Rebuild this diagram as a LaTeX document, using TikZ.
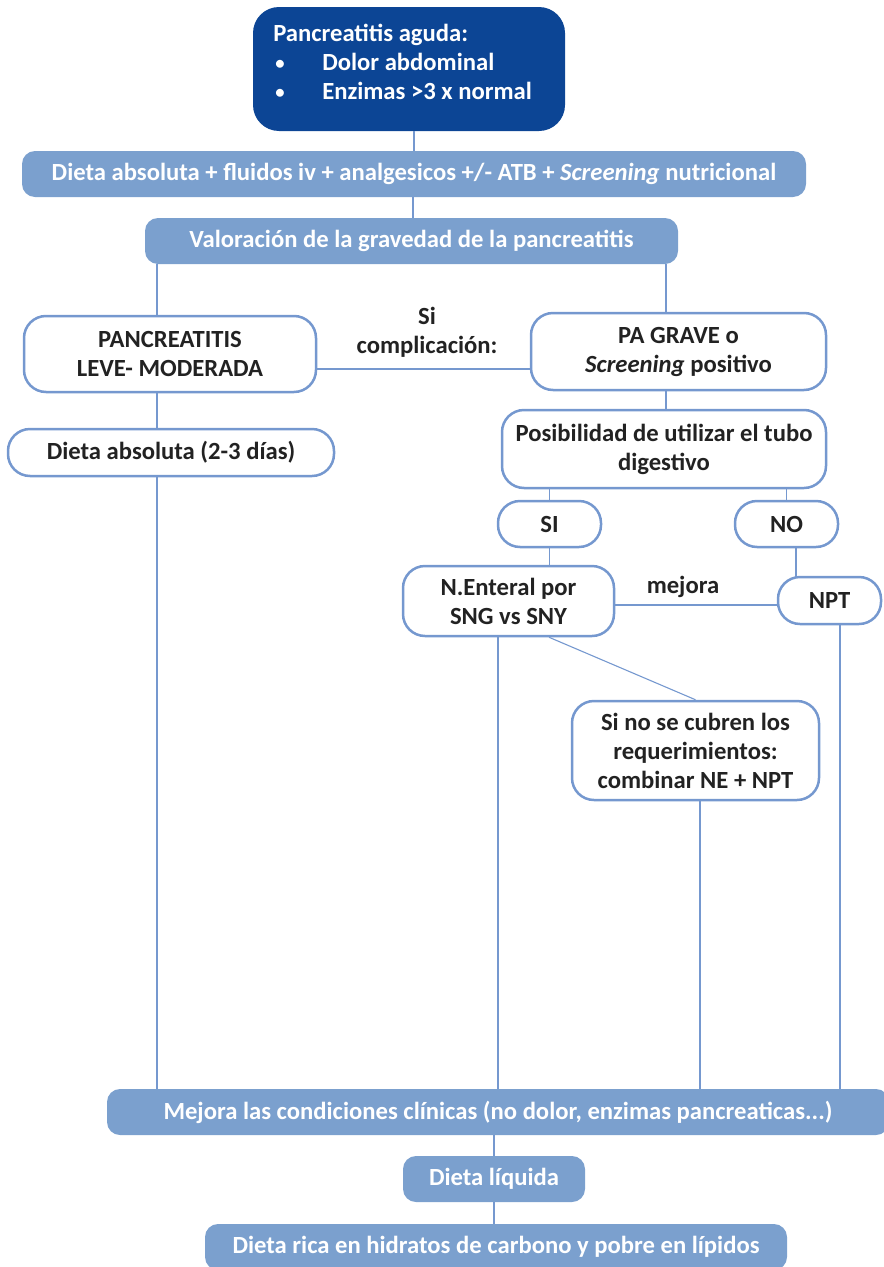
\documentclass[tikz,border=0pt]{standalone}
\usepackage{fontspec}
\setmainfont{Carlito}
\usetikzlibrary{positioning}
\definecolor{darkblue}{HTML}{0C4595}
\definecolor{barblue}{HTML}{7BA0CE}
\definecolor{lineblue}{HTML}{7598CF}
\definecolor{textgray}{HTML}{222222}
\newlength\pxl
\setlength\pxl{0.75pt}
\newcommand\smallbullet{\makebox[49\pxl][l]{\hspace{2\pxl}\raisebox{1\pxl}{\fontsize{14}{14}\selectfont\textbullet}}}
\tikzset{
    bar/.style={fill=barblue, rounded corners=13*\pxl, text=white, inner sep=0pt,
        minimum height=46*\pxl},
    whitebox/.style={draw=lineblue, line width=2.5*\pxl, fill=white, rounded corners=22*\pxl,
        text=textgray, align=center, inner sep=0pt},
    link/.style={draw=lineblue, line width=1.1*\pxl},
    lbl/.style={text=textgray, align=center, inner sep=0pt},
}

\begin{document}
\begin{tikzpicture}[x=\pxl, y=-\pxl,
    every node/.style={font=\bfseries\fontsize{18.5}{21.75}\selectfont}]
    \useasboundingbox (0,0) rectangle (883,1267);
    % top box
    \node[fill=darkblue, rounded corners=26*\pxl, minimum width=312*\pxl, minimum height=124*\pxl,
        inner sep=0pt] (acute) at (409,69) {};
    \node[anchor=west, text=white, align=left, inner sep=0pt] (acuteText) at (273,62)
        {Pancreatitis aguda:\\
         \smallbullet Dolor abdominal\\
         \smallbullet Enzimas >3 x normal};
    % bars
    \node[bar, minimum width=784*\pxl] (diet) at (414,174)
        {Dieta absoluta + fluidos iv + analgesicos +/- ATB + \textit{Screening} nutricional};
    \node[bar, minimum width=533*\pxl] (assess) at (411.5,241)
        {Valoración de la gravedad de la pancreatitis};
    % severity
    \node[whitebox, minimum width=292*\pxl, minimum height=76*\pxl] (mild) at (170,354)
        {PANCREATITIS\\LEVE- MODERADA};
    \node[whitebox, minimum width=295*\pxl, minimum height=77*\pxl] (severe) at (678.5,351.5)
        {PA GRAVE o\\\textit{Screening} positivo};
    \node[lbl] (complic) at (427,332) {Si\\complicación:};
    \node[whitebox, minimum width=326*\pxl, minimum height=47*\pxl] (fasting) at (171,452.5)
        {Dieta absoluta (2-3 días)};
    \node[whitebox, minimum width=324*\pxl, minimum height=78*\pxl] (gut) at (664,449)
        {Posibilidad de utilizar el tubo\\digestivo};
    \node[whitebox, minimum width=103*\pxl, minimum height=46*\pxl] (yes) at (549.5,524) {SI};
    \node[whitebox, minimum width=103*\pxl, minimum height=46*\pxl] (no) at (786.5,524) {NO};
    \node[whitebox, minimum width=211*\pxl, minimum height=70*\pxl] (enteral) at (508.5,601)
        {N.Enteral por\\SNG vs SNY};
    \node[whitebox, minimum width=103*\pxl, minimum height=47*\pxl] (npt) at (829.5,600.5) {NPT};
    \node[lbl] (improves) at (683,587) {mejora};
    \node[whitebox, minimum width=247*\pxl, minimum height=99*\pxl] (combo) at (695.5,750.5)
        {Si no se cubren los\\requerimientos:\\combinar NE + NPT};
    % bottom
    \node[bar, minimum width=782*\pxl] (better) at (498,1112)
        {Mejora las condiciones clínicas (no dolor, enzimas pancreaticas...)};
    \node[bar, minimum width=182*\pxl] (liquid) at (494,1179) {Dieta líquida};
    \node[bar, minimum width=582*\pxl] (rich) at (496,1247)
        {Dieta rica en hidratos de carbono y pobre en lípidos};

    % line positions
    \coordinate (leftLine) at (157,0);
    \coordinate (rightLine) at (666,0);
    \coordinate (nptLine) at (796,0);
    \coordinate (midLine) at (498,0);
    \coordinate (diagStart) at (549,0);
    \coordinate (comboLine) at (700,0);
    \coordinate (farLine) at (840,0);
    \coordinate (complicRow) at (0,369);
    \coordinate (improveRow) at (0,605);

    % connectors
    \draw[link] (acute.south -| diet.north) -- (diet.north);
    \draw[link] (diet.south -| 413,0) -- (assess.north -| 413,0);
    \draw[link] (assess.south -| leftLine) -- (mild.north -| leftLine);
    \draw[link] (assess.south -| rightLine) -- (severe.north -| rightLine);
    \draw[link] (mild.east |- complicRow) -- (severe.west |- complicRow);
    \draw[link] (mild.south -| leftLine) -- (fasting.north -| leftLine);
    \draw[link] (fasting.south -| leftLine) -- (better.north -| leftLine);
    \draw[link] (severe.south -| rightLine) -- (gut.north -| rightLine);
    \draw[link] (gut.south -| yes.north) -- (yes.north);
    \draw[link] (gut.south -| no.north) -- (no.north);
    \draw[link] (yes.south) -- (enteral.north -| yes.south);
    \draw[link] (no.south -| nptLine) -- (npt.north -| nptLine);
    \draw[link] (enteral.east |- improveRow) -- (npt.west |- improveRow);
    \draw[link] (enteral.south -| diagStart) -- (combo.north);
    \draw[link] (enteral.south -| midLine) -- (better.north -| midLine);
    \draw[link] (combo.south -| comboLine) -- (better.north -| comboLine);
    \draw[link] (npt.south -| farLine) -- (better.north -| farLine);
    \draw[link] (better.south -| liquid.north) -- (liquid.north);
    \draw[link] (liquid.south) -- (rich.north -| liquid.south);
\end{tikzpicture}
\end{document}
